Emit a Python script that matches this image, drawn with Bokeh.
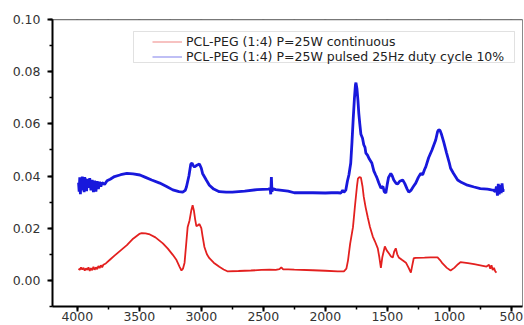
from bokeh.plotting import figure
from bokeh.models import (Range1d, SingleIntervalTicker, PrintfTickFormatter,
                          Legend, LegendItem, BoxAnnotation, PolyAnnotation)
from bokeh.embed import file_html
from bokeh.resources import INLINE

# ---------------- data ----------------
label_red = "PCL-PEG (1:4) P=25W continuous"
label_blue = "PCL-PEG (1:4) P=25W pulsed 25Hz duty cycle 10%"

# tick positions repeated on the top frame edge
top_major_ticks = [4000, 3500, 3000, 2500, 2000, 1500, 1000, 500]
top_minor_ticks = [3750, 3250, 2750, 2250, 1750, 1250, 750]

wn_red = [3990, 3980, 3970, 3960, 3950, 3940, 3930, 3920, 3910, 3900, 3890, 3880, 3870, 3860,
          3850, 3840, 3830, 3820, 3810, 3800, 3790, 3770, 3735, 3700, 3650, 3600, 3550, 3500,
          3480, 3450, 3415, 3370, 3310, 3270, 3230, 3200, 3175, 3160, 3148, 3135, 3120, 3110,
          3095, 3080, 3070, 3060, 3050, 3040, 3025, 3015, 3000, 2990, 2975, 2955, 2935, 2900,
          2855, 2820, 2790, 2700, 2600, 2515, 2450, 2400, 2370, 2355, 2340, 2300, 2250, 2100,
          2000, 1900, 1850, 1830, 1817, 1800, 1777, 1760, 1745, 1737, 1725, 1713, 1700, 1690,
          1675, 1657, 1640, 1617, 1600, 1577, 1565, 1552, 1540, 1520, 1505, 1488, 1470, 1456,
          1445, 1432, 1420, 1408, 1380, 1350, 1330, 1310, 1300, 1287, 1270, 1200, 1150, 1095,
          1075, 1055, 1020, 990, 960, 930, 910, 850, 800, 750, 700, 680, 670, 660, 650, 640,
          630, 620]
abs_red = [0.0045, 0.0040, 0.0050, 0.0042, 0.0048, 0.0038, 0.0046, 0.0040, 0.0050, 0.0036,
           0.0047, 0.0039, 0.0052, 0.0041, 0.0050, 0.0043, 0.0055, 0.0047, 0.0058, 0.0050,
           0.0060, 0.0065, 0.0080, 0.0095, 0.0115, 0.0135, 0.0160, 0.0178, 0.0181, 0.0180,
           0.0176, 0.0165, 0.0142, 0.0122, 0.0098, 0.0078, 0.0052, 0.0038, 0.0045, 0.0068,
           0.0150, 0.0205, 0.0230, 0.0270, 0.0288, 0.0268, 0.0235, 0.0208, 0.0212, 0.0216,
           0.0200, 0.0170, 0.0128, 0.0100, 0.0085, 0.0068, 0.0052, 0.0042, 0.0035, 0.0036,
           0.0038, 0.0040, 0.0041, 0.0040, 0.0043, 0.0050, 0.0042, 0.0042, 0.0041, 0.0039,
           0.0037, 0.0035, 0.0035, 0.0045, 0.0077, 0.0140, 0.0204, 0.0290, 0.0360, 0.0390,
           0.0396, 0.0394, 0.0360, 0.0320, 0.0280, 0.0240, 0.0205, 0.0168, 0.0150, 0.0123,
           0.0090, 0.0048, 0.0090, 0.0130, 0.0115, 0.0104, 0.0092, 0.0088, 0.0110, 0.0123,
           0.0100, 0.0088, 0.0078, 0.0068, 0.0050, 0.0030, 0.0055, 0.0085, 0.0086, 0.0087,
           0.0088, 0.0088, 0.0078, 0.0065, 0.0048, 0.0038, 0.0048, 0.0062, 0.0070, 0.0066,
           0.0062, 0.0058, 0.0053, 0.0060, 0.0045, 0.0058, 0.0040, 0.0048, 0.0035, 0.0030]

wn_blue = [3990, 3985, 3980, 3975, 3970, 3965, 3960, 3955, 3950, 3945, 3940, 3935, 3930, 3925,
           3920, 3910, 3900, 3890, 3880, 3870, 3860, 3850, 3840, 3830, 3820, 3810, 3800, 3780,
           3760, 3735, 3700, 3650, 3600, 3550, 3495, 3450, 3400, 3335, 3280, 3230, 3180, 3150,
           3130, 3120, 3100, 3085, 3075, 3065, 3055, 3040, 3015, 3000, 2990, 2960, 2935, 2900,
           2855, 2800, 2750, 2650, 2550, 2460, 2445, 2440, 2435, 2430, 2425, 2400, 2300, 2250,
           2100, 2000, 1950, 1900, 1875, 1860, 1850, 1835, 1822, 1810, 1795, 1785, 1775, 1765,
           1757, 1753, 1745, 1737, 1730, 1722, 1713, 1700, 1690, 1680, 1673, 1660, 1645, 1625,
           1609, 1595, 1585, 1570, 1552, 1535, 1525, 1512, 1500, 1490, 1472, 1460, 1448, 1430,
           1416, 1400, 1376, 1360, 1340, 1327, 1310, 1290, 1271, 1250, 1231, 1215, 1200, 1190,
           1167, 1140, 1110, 1095, 1087, 1075, 1062, 1045, 1022, 1000, 990, 966, 933, 900, 854,
           800, 750, 693, 660, 645, 630, 620, 612, 605, 598, 590, 582, 575, 568, 565]
abs_blue = [0.0375, 0.0340, 0.0395, 0.0330, 0.0390, 0.0350, 0.0398, 0.0345, 0.0392, 0.0338,
            0.0396, 0.0350, 0.0390, 0.0342, 0.0388, 0.0355, 0.0392, 0.0345, 0.0385, 0.0338,
            0.0382, 0.0340, 0.0380, 0.0350, 0.0378, 0.0360, 0.0375, 0.0368, 0.0382, 0.0388,
            0.0398, 0.0405, 0.0410, 0.0408, 0.0404, 0.0395, 0.0385, 0.0373, 0.0360, 0.0347,
            0.0340, 0.0338, 0.0345, 0.0358, 0.0400, 0.0445, 0.0450, 0.0440, 0.0435, 0.0440,
            0.0446, 0.0430, 0.0410, 0.0385, 0.0365, 0.0350, 0.0340, 0.0338, 0.0338, 0.0342,
            0.0348, 0.0350, 0.0352, 0.0330, 0.0396, 0.0340, 0.0352, 0.0348, 0.0342, 0.0336,
            0.0336, 0.0335, 0.0336, 0.0336, 0.0335, 0.0345, 0.0338, 0.0346, 0.0380, 0.0404,
            0.0450, 0.0530, 0.0620, 0.0700, 0.0750, 0.0758, 0.0735, 0.0690, 0.0640, 0.0600,
            0.0560, 0.0545, 0.0520, 0.0510, 0.0488, 0.0480, 0.0465, 0.0450, 0.0420, 0.0405,
            0.0395, 0.0375, 0.0354, 0.0360, 0.0340, 0.0335, 0.0370, 0.0395, 0.0410, 0.0400,
            0.0385, 0.0372, 0.0370, 0.0380, 0.0385, 0.0372, 0.0350, 0.0338, 0.0345, 0.0360,
            0.0373, 0.0395, 0.0410, 0.0405, 0.0425, 0.0435, 0.0470, 0.0500, 0.0538, 0.0570,
            0.0577, 0.0575, 0.0558, 0.0530, 0.0488, 0.0450, 0.0430, 0.0410, 0.0385, 0.0375,
            0.0365, 0.0358, 0.0352, 0.0350, 0.0347, 0.0346, 0.0340, 0.0360, 0.0325, 0.0370,
            0.0330, 0.0365, 0.0335, 0.0372, 0.0340, 0.0350]

RED = "#e3201f"
BLUE = "#1818dc"
FONT = "DejaVu Sans"

# ---------------- figure ----------------
p = figure(width=524, height=325, output_backend="svg", toolbar_location=None,
           x_range=Range1d(4200, 410), y_range=Range1d(-0.01, 0.10),
           min_border_left=52, min_border_right=2, min_border_top=19, min_border_bottom=19)
p.xgrid.visible = False
p.ygrid.visible = False
p.outline_line_color = "#8a8a8a"

p.line(wn_red, abs_red, line_color=RED, line_width=1.8)
p.line(wn_blue, abs_blue, line_color=BLUE, line_width=2.8)
# thin, hidden copies whose style is used for the legend swatches
leg_red = p.line(wn_red, abs_red, line_color=RED, line_width=1, line_alpha=0.55, visible=False)
leg_blue = p.line(wn_blue, abs_blue, line_color=BLUE, line_width=1, line_alpha=0.55, visible=False)

# axes
p.xaxis[0].ticker = SingleIntervalTicker(interval=500, num_minor_ticks=2)
p.yaxis[0].ticker = SingleIntervalTicker(interval=0.02, num_minor_ticks=2)
p.yaxis[0].formatter = PrintfTickFormatter(format="%.2f")
for ax in (p.below[0], p.left[0]):
    ax.axis_line_width = 2
    ax.axis_line_color = "black"
    ax.major_tick_line_width = 2
    ax.minor_tick_line_width = 1.5
    ax.major_tick_in = 0
    ax.major_tick_out = 5
    ax.minor_tick_in = 0
    ax.minor_tick_out = 3
    ax.major_label_text_font = FONT
    ax.major_label_text_font_size = "12.5px"
    ax.major_label_text_color = "#333333"
p.below[0].major_label_standoff = 0
p.left[0].major_label_standoff = 7

# top frame edge: a black rule with outward ticks at the x tick positions
p.add_layout(PolyAnnotation(xs=[43, 522], ys=[19, 19], xs_units="canvas", ys_units="canvas",
                            line_color="#111111", line_width=1.8, fill_alpha=0))
for t in top_major_ticks:
    p.add_layout(PolyAnnotation(xs=[t, t], ys=[12, 19], xs_units="data", ys_units="canvas",
                                line_color="#111111", line_width=2, fill_alpha=0))
for t in top_minor_ticks:
    p.add_layout(PolyAnnotation(xs=[t, t], ys=[16, 19], xs_units="data", ys_units="canvas",
                                line_color="#111111", line_width=1.5, fill_alpha=0))

# legend frame
box = BoxAnnotation(left=133, right=514, top=31, bottom=62,
                    left_units="canvas", right_units="canvas",
                    top_units="canvas", bottom_units="canvas",
                    fill_alpha=0, line_color="#9a9a9a", line_width=1)
p.add_layout(box)

legend = Legend(items=[LegendItem(label=label_red, renderers=[leg_red]),
                       LegendItem(label=label_blue, renderers=[leg_blue])],
                location=(100, 242), margin=0, padding=0, spacing=0,
                glyph_width=30, glyph_height=15, label_height=15, label_standoff=4,
                label_text_font=FONT, label_text_font_size="12.5px",
                label_text_color="#222222", border_line_color=None,
                background_fill_alpha=0)
p.add_layout(legend)

open("out.html", "w").write(file_html(p, INLINE))
